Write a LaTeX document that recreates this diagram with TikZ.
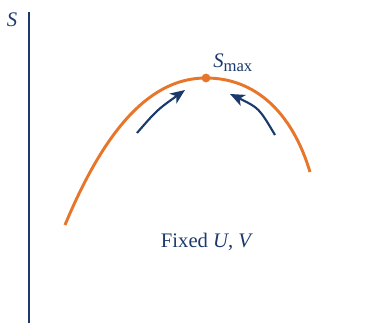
\documentclass[tikz,border=0pt]{standalone}
\usepackage{fontspec}
\setmainfont{Liberation Serif}
\usetikzlibrary{arrows.meta}
\definecolor{entNavy}{HTML}{1B3A6B}
\definecolor{entOrange}{HTML}{E8762A}

\begin{document}
\begin{tikzpicture}[x=0.75pt,y=-0.75pt]
  \tikzset{
    axisline/.style={draw=entNavy,line width=1.3pt},
    entcurve/.style={draw=entOrange,line width=2.2pt},
    pusharrow/.style={draw=entNavy,line width=1.6pt,-{Stealth[length=11pt,width=9pt,inset=3pt]}},
    lbl/.style={text=entNavy,font=\fontsize{15.5}{18}\selectfont,inner sep=0pt}
  }
  \useasboundingbox (0,0) rectangle (376,323);

  \coordinate (axtop) at (29,12);
  \coordinate (axbot) at (29,323);
  \draw[axisline] (axtop) -- (axbot);
  \node[lbl,anchor=base] (slbl) at (12,27) {\textit{S}};

  \coordinate (cl) at (65,225);
  \coordinate (peak) at (206,78);
  \coordinate (cr) at (310,172);
  \draw[entcurve] (cl) .. controls (112,112) and (160,78) .. (peak)
                       .. controls (255,78) and (292,112) .. (cr);
  \fill[entOrange] (peak) circle (3.3pt);
  \node[lbl,anchor=base west] (smax) at (213,68) {\textit{S}\raisebox{-0.35ex}{\fontsize{12.5}{14}\selectfont max}};

  \coordinate (la) at (137,133);
  \coordinate (lb) at (185,90);
  \coordinate (ra) at (275,135);
  \coordinate (rb) at (230,94);
  \draw[pusharrow] (la) .. controls (157,110) .. (lb);
  \draw[pusharrow] (ra) .. controls (259,108) .. (rb);

  \node[lbl,anchor=base] (fixed) at (207,248) {Fixed \textit{U}, \textit{V}};
\end{tikzpicture}
\end{document}
